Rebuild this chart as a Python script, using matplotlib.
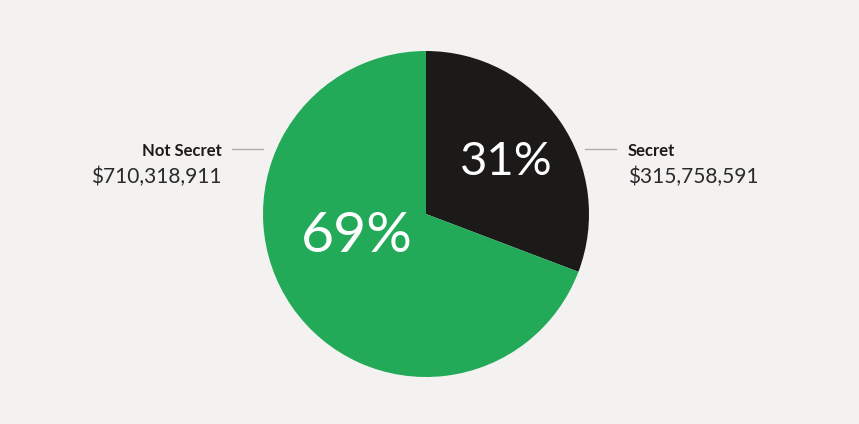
import matplotlib.pyplot as plt

categories = ["Secret", "Not Secret"]
values = [315758591, 710318911]
pct_labels = ["31%", "69%"]
amount_labels = ["$315,758,591", "$710,318,911"]
colors = ["#1c1a19", "#22aa58"]
bg = "#f3f2f0"

plt.rcParams['font.family'] = ['Lato', 'DejaVu Sans']

W, H = 859, 424
fig = plt.figure(figsize=(W / 100, H / 100), dpi=100, facecolor=bg)
cx, cy, r = 426, 214, 163
ax = fig.add_axes([(cx - r) / W, (H - cy - r) / H, 2 * r / W, 2 * r / H])
ax.set_facecolor(bg)
ax.pie(values, colors=colors, startangle=90, counterclock=False, radius=1,
       wedgeprops=dict(linewidth=0))
ax.set_xlim(-1, 1)
ax.set_ylim(-1, 1)
ax.set_aspect('equal')
ax.axis('off')

def d(px, py):
    return (px - cx) / r, (cy - py) / r

# percentages
ax.text(*d(506, 162), pct_labels[0], color="white", fontsize=34, ha="center", va="center")
ax.text(*d(357, 237), pct_labels[1], color="white", fontsize=41, ha="center", va="center")

# leader lines
ax.plot(*zip(d(585, 149), d(616, 149)), color="#aaaaaa", lw=0.9, clip_on=False)
ax.plot(*zip(d(232, 149), d(263, 149)), color="#aaaaaa", lw=0.9, clip_on=False)

# labels
ax.text(*d(628, 156), categories[0], color="#1c1a19", fontsize=12, fontweight="bold",
        ha="left", va="baseline")
ax.text(*d(628, 183), amount_labels[0], color="#2a2a2a", fontsize=15,
        ha="left", va="baseline")
ax.text(*d(222, 156), categories[1], color="#1c1a19", fontsize=12, fontweight="bold",
        ha="right", va="baseline")
ax.text(*d(222, 183), amount_labels[1], color="#2a2a2a", fontsize=15,
        ha="right", va="baseline")

fig.savefig("out.png", dpi=100, facecolor=bg)
